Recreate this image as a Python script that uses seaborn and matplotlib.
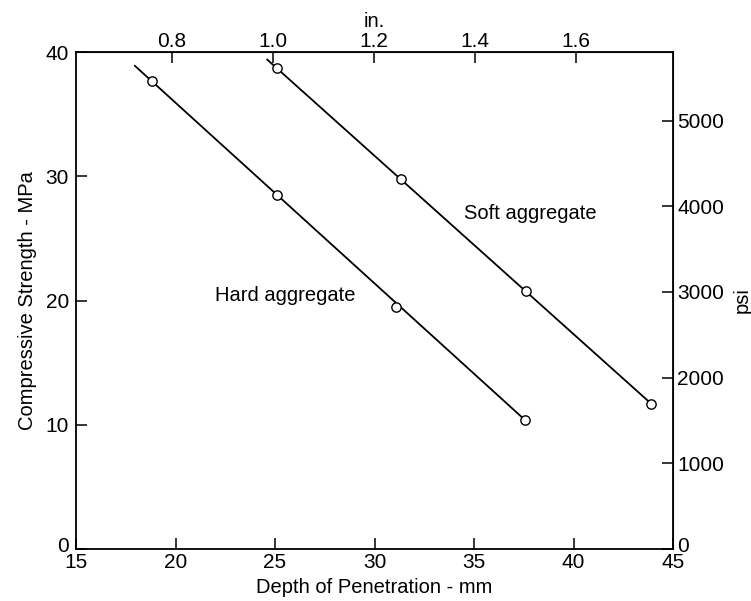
import matplotlib
matplotlib.use("Agg")
import matplotlib.pyplot as plt
import matplotlib.transforms as mtransforms
import seaborn as sns
import pandas as pd

# ---- data ----
hard_depth_mm = [18.8, 25.1, 31.1, 37.55]
hard_strength_mpa = [37.7, 28.5, 19.5, 10.4]
hard_line_depth = [17.95, 37.55]
hard_line_strength = [38.9, 10.4]

soft_depth_mm = [25.1, 31.35, 37.6, 43.9]
soft_strength_mpa = [38.7, 29.8, 20.8, 11.7]
soft_line_depth = [24.6, 43.9]
soft_line_strength = [39.4, 11.7]

x_ticks = [15, 20, 25, 30, 35, 40, 45]
y_ticks = [0, 10, 20, 30, 40]
in_ticks = [0.8, 1.0, 1.2, 1.4, 1.6]
psi_ticks = [0, 1000, 2000, 3000, 4000, 5000]

labels = ["Hard aggregate", "Soft aggregate"]

sns.set_style("ticks")
plt.rcParams["font.family"] = ["Liberation Sans", "DejaVu Sans"]
plt.rcParams["text.color"] = "black"
plt.rcParams["axes.labelcolor"] = "black"

FS_TICK = 15
FS_LAB = 14.5

fig = plt.figure(figsize=(7.51, 6.01), dpi=100)
ax = fig.add_axes([76 / 751, 1 - 549 / 601, (673 - 76) / 751, (549 - 52) / 601])

lw = 1.3
lines = pd.DataFrame({
    "depth": hard_line_depth + soft_line_depth,
    "strength": hard_line_strength + soft_line_strength,
    "series": [labels[0]] * 2 + [labels[1]] * 2,
})
pts = pd.DataFrame({
    "depth": hard_depth_mm + soft_depth_mm,
    "strength": hard_strength_mpa + soft_strength_mpa,
    "series": [labels[0]] * 4 + [labels[1]] * 4,
})
sns.lineplot(data=lines, x="depth", y="strength", units="series", estimator=None,
             color="black", linewidth=lw, ax=ax, legend=False)
sns.scatterplot(data=pts, x="depth", y="strength", ax=ax, s=45, marker="o",
                facecolor="white", edgecolor="black", linewidth=1.0, zorder=5,
                legend=False)

ax.set_xlim(15, 45)
ax.set_ylim(0, 40)
ax.set_xticks(x_ticks)
ax.set_yticks(y_ticks)
ax.set_xticklabels([str(t) for t in x_ticks])
ax.set_yticklabels([str(t) for t in y_ticks])
ax.tick_params(direction="in", length=8, width=1.1, labelsize=FS_TICK,
               colors="black")
ax.tick_params(axis="x", pad=3)
ax.tick_params(axis="y", pad=5)
for s in ax.spines.values():
    s.set_visible(True)
    s.set_linewidth(1.3)
    s.set_color("black")

ax.set_xlabel("Depth of Penetration - mm", fontsize=FS_LAB, labelpad=4)
ax.set_ylabel("Compressive Strength - MPa", fontsize=FS_LAB, labelpad=6)

ax.text(22.0, 20.4, labels[0], fontsize=FS_LAB, va="center", ha="left")
ax.text(34.5, 27.0, labels[1], fontsize=FS_LAB, va="center", ha="left")

# top axis: inches
top = ax.secondary_xaxis("top", functions=(lambda mm: (mm + 0.5) / 25.4,
                                            lambda inch: inch * 25.4 - 0.5))
top.set_xticks(in_ticks)
top.set_xticklabels([f"{t:.1f}" for t in in_ticks])
top.tick_params(direction="in", length=8, width=1.1, labelsize=FS_TICK, pad=1,
                colors="black")
top.set_xlabel("in.", fontsize=FS_LAB, labelpad=3)

# right axis: psi
right = ax.secondary_yaxis("right", functions=(lambda mpa: mpa * 145.038,
                                               lambda psi: psi / 145.038))
right.set_yticks(psi_ticks)
right.set_yticklabels([str(t) for t in psi_ticks])
right.tick_params(direction="in", length=8, width=1.1, labelsize=FS_TICK, pad=3,
                  colors="black")
right.set_ylabel("psi", fontsize=FS_LAB, labelpad=6)

# nudge the zero labels up a little, as in the reference
fig.canvas.draw()
up = mtransforms.ScaledTranslation(0, 5 / 100, fig.dpi_scale_trans)
for lab in (ax.get_yticklabels()[0], right.get_yticklabels()[0]):
    lab.set_transform(lab.get_transform() + up)

fig.savefig("out.png", dpi=100, facecolor="white")
